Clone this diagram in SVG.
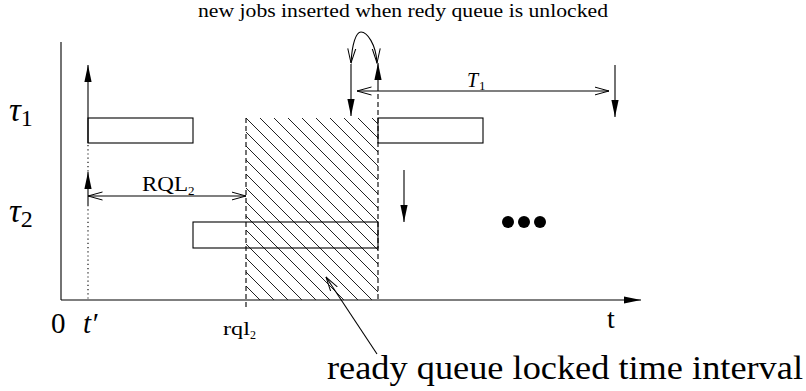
<svg xmlns="http://www.w3.org/2000/svg" width="806" height="391" viewBox="0 0 806 391">
  <style>
    .ln { stroke: #000; stroke-width: 1.1; fill: none; }
    .box { stroke: #000; stroke-width: 1.1; fill: #fff; }
    .dash { stroke: #000; stroke-width: 1.1; fill: none; stroke-dasharray: 5 3; }
    .dot { stroke: #000; stroke-width: 1.1; fill: none; stroke-dasharray: 1.2 3; }
  </style>
  <defs>
    <marker id="fa" markerWidth="17" markerHeight="8" refX="17" refY="4" orient="auto" markerUnits="userSpaceOnUse">
      <path d="M0,0.4 L17,4 L0,7.6 z" fill="#000"/>
    </marker>
    <marker id="oa" markerWidth="15" markerHeight="10" refX="14.5" refY="5" orient="auto-start-reverse" markerUnits="userSpaceOnUse">
      <path d="M0,1 L14.5,5 L0,9" fill="none" stroke="#000" stroke-width="1"/>
    </marker>
    <pattern id="hatch" patternUnits="userSpaceOnUse" x="246" y="118" width="14" height="14">
      <path d="M-2,-2 L16,16" stroke="#222" stroke-width="1"/>
    </pattern>
  </defs>

  <!-- axes -->
  <g id="axes">
    <line class="ln" x1="61" y1="42" x2="61" y2="300"/>
    <line class="ln" x1="61" y1="300" x2="641" y2="300" marker-end="url(#fa)"/>
  </g>

  <!-- locked interval (hatched) -->
  <g id="locked-interval">
    <rect x="246" y="118" width="132" height="182" fill="url(#hatch)" stroke="none"/>
  </g>

  <!-- job boxes -->
  <g id="tau1-job1">
    <rect class="box" x="88" y="118" width="105" height="25"/>
  </g>
  <g id="tau2-job">
    <rect x="193" y="222" width="185" height="26" fill="none" stroke="#000" stroke-width="1.1"/>
  </g>
  <g id="tau1-job2">
    <rect class="box" x="378" y="118" width="105" height="25"/>
  </g>

  <!-- connectors / time markers -->
  <g id="connectors">
    <line class="ln" x1="88" y1="143" x2="88" y2="65" marker-end="url(#fa)"/>
    <line class="dot" x1="88" y1="145" x2="88" y2="172"/>
    <line class="ln" x1="88" y1="205" x2="88" y2="172" marker-end="url(#fa)"/>
    <line class="dot" x1="88" y1="205" x2="88" y2="300"/>
    <line class="ln" x1="88" y1="196" x2="246" y2="196" marker-start="url(#oa)" marker-end="url(#oa)"/>
    <line class="dash" x1="246" y1="118" x2="246" y2="308"/>
    <line class="dash" x1="378" y1="86" x2="378" y2="300"/>
    <line class="ln" x1="378" y1="86" x2="378" y2="63" marker-end="url(#fa)"/>
    <line class="ln" x1="351" y1="64" x2="351" y2="116" marker-end="url(#fa)"/>
    <path class="ln" d="M351,63 C352,44 356,32 361,32 C367,32 376,44 377,63" marker-start="url(#oa)" marker-end="url(#oa)"/>
    <line class="ln" x1="357" y1="91" x2="609" y2="91" marker-start="url(#oa)" marker-end="url(#oa)"/>
    <line class="ln" x1="615" y1="65" x2="615" y2="117" marker-end="url(#fa)"/>
    <line class="ln" x1="404" y1="170" x2="404" y2="222" marker-end="url(#fa)"/>
    <line class="ln" x1="377" y1="354" x2="326" y2="277" marker-end="url(#oa)"/>
  </g>

  <!-- ellipsis dots -->
  <g id="ellipsis" fill="#000">
    <circle cx="508" cy="222" r="6"/>
    <circle cx="524" cy="222" r="6"/>
    <circle cx="540" cy="222" r="6"/>
  </g>

  <!-- labels -->
  <g id="labels" font-family="'Liberation Serif', serif" fill="#000">
    <text x="403" y="17" font-size="18" text-anchor="middle" textLength="410" lengthAdjust="spacingAndGlyphs">new jobs inserted when redy queue is unlocked</text>
    <text x="9" y="121" font-size="33"><tspan font-style="italic">τ</tspan><tspan font-size="24" dy="5">1</tspan></text>
    <text x="9" y="222" font-size="33"><tspan font-style="italic">τ</tspan><tspan font-size="24" dy="5">2</tspan></text>
    <text x="142" y="191" font-size="20" textLength="46" lengthAdjust="spacingAndGlyphs">RQL</text>
    <text x="188" y="195" font-size="13">2</text>
    <text x="467" y="87" font-size="20" font-style="italic">T</text>
    <text x="479" y="90" font-size="13">1</text>
    <text x="51" y="333" font-size="29">0</text>
    <text x="83" y="333" font-size="29" font-style="italic">t′</text>
    <text x="223" y="335" font-size="18" textLength="27" lengthAdjust="spacingAndGlyphs">rql</text>
    <text x="250" y="339" font-size="12">2</text>
    <text x="607" y="328" font-size="28">t</text>
    <text x="327" y="379" font-size="33" textLength="476" lengthAdjust="spacingAndGlyphs">ready queue locked time interval</text>
  </g>
</svg>
